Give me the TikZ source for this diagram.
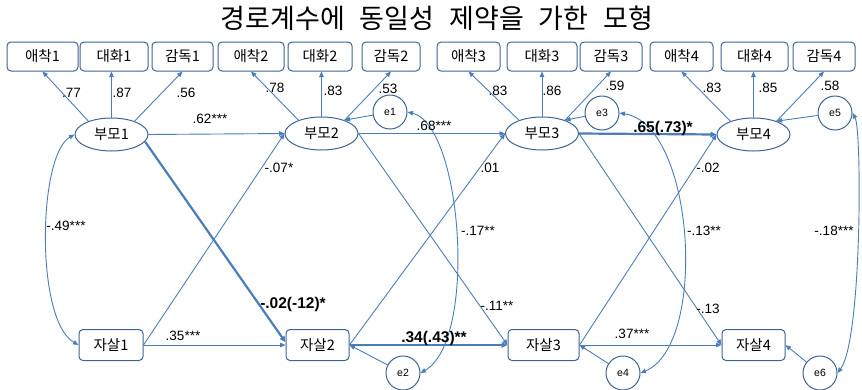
\documentclass[tikz,border=0pt]{standalone}
\usepackage{fontspec}
\setmainfont{Liberation Sans}
\newfontfamily\kfont{Noto Sans CJK KR}
\usetikzlibrary{arrows.meta,shapes.geometric}
\definecolor{lineblue}{RGB}{74,126,187}
\definecolor{bordc}{RGB}{62,100,148}
\tikzset{
  obs/.style={draw=bordc, line width=1pt, rounded corners=4pt, minimum height=29pt, inner sep=0pt, font=\kfont\fontsize{14.5}{16}\selectfont},
  lat/.style={draw=bordc, line width=1pt, ellipse, minimum width=73pt, minimum height=33pt, inner sep=0pt, font=\kfont\fontsize{14.5}{16}\selectfont},
  err/.style={draw=bordc, line width=1pt, circle, minimum size=34pt, inner sep=0pt, font=\fontsize{10.5}{12}\selectfont},
  conn/.style={draw=lineblue, line width=0.9pt, -{Triangle[length=5.5pt,width=4.5pt]}},
  connthick/.style={draw=lineblue, line width=2.2pt, -{Triangle[length=6pt,width=5.5pt]}},
  cov/.style={draw=lineblue, line width=0.9pt, {Triangle[length=5.5pt,width=4.5pt]}-{Triangle[length=5.5pt,width=4.5pt]}},
  lab/.style={anchor=base, inner sep=0pt, font=\fontsize{13.5}{15}\selectfont},
  blab/.style={anchor=base, inner sep=0pt, font=\bfseries\fontsize{15.5}{18}\selectfont},
  ttl/.style={inner sep=0pt, font=\kfont\fontsize{27}{30}\selectfont}
}
\begin{document}
\begin{tikzpicture}[x=1pt,y=-1pt]
\useasboundingbox (0,0) rectangle (862,389);
\fill[white] (0,0) rectangle (862,389);
% title
\node[ttl] (title) at (437,18) {경로계수에\hspace{15pt}동일성\hspace{15pt}제약을\hspace{15pt}가한\hspace{15pt}모형};
% top indicators
\node[obs, minimum width=71pt] (a1) at (42.5,56.5) {애착1};
\node[obs, minimum width=68pt] (b1) at (114,56.5) {대화1};
\node[obs, minimum width=61pt] (c1) at (182.5,56.5) {감독1};
\node[obs, minimum width=66pt] (a2) at (251,56.5) {애착2};
\node[obs, minimum width=64pt] (b2) at (320,56.5) {대화2};
\node[obs, minimum width=58pt] (c2) at (391,56.5) {감독2};
\node[obs, minimum width=63pt] (a3) at (468.5,56.5) {애착3};
\node[obs, minimum width=70pt] (b3) at (542,56.5) {대화3};
\node[obs, minimum width=62pt] (c3) at (611,56.5) {감독3};
\node[obs, minimum width=63pt] (a4) at (681.5,56.5) {애착4};
\node[obs, minimum width=67pt] (b4) at (754.5,56.5) {대화4};
\node[obs, minimum width=62pt] (c4) at (824,56.5) {감독4};
% latent
\node[lat] (p1) at (111.5,134.5) {부모1};
\node[lat] (p2) at (321.5,133.5) {부모2};
\node[lat] (p3) at (542,133.5) {부모3};
\node[lat] (p4) at (753.5,134.5) {부모4};
% errors
\node[err] (e1) at (390,112) {e1};
\node[err] (e3) at (602,113) {e3};
\node[err] (e5) at (835,113) {e5};
\node[err] (e2) at (403,373) {e2};
\node[err] (e4) at (623,373) {e4};
\node[err] (e6) at (820,373) {e6};
% bottom boxes
\node[obs, minimum width=64pt, minimum height=31pt] (s1) at (111,345) {자살1};
\node[obs, minimum width=63pt, minimum height=31pt] (s2) at (317.5,345) {자살2};
\node[obs, minimum width=71pt, minimum height=31pt] (s3) at (543.5,345) {자살3};
\node[obs, minimum width=63pt, minimum height=31pt] (s4) at (753.5,345) {자살4};
% loadings
\draw[conn] (p1.150) -- (a1.south);
\draw[conn] (p1.north) -- (p1.north |- b1.south);
\draw[conn] (p1.30) -- (c1.south);
\draw[conn] (p2.150) -- (a2.south);
\draw[conn] (p2.north) -- (p2.north |- b2.south);
\draw[conn] (p2.30) -- (c2.south);
\draw[conn] (p3.150) -- (a3.south);
\draw[conn] (p3.north) -- (p3.north |- b3.south);
\draw[conn] (p3.30) -- (c3.south);
\draw[conn] (p4.150) -- (a4.south);
\draw[conn] (p4.north) -- (p4.north |- b4.south);
\draw[conn] (p4.30) -- (c4.south);
% errors to variables
\draw[conn] (e1) -- (p2.30);
\draw[conn] (e3) -- (p3.30);
\draw[conn] (e5) -- (p4.30);
\draw[conn] (e2) -- (s2.east);
\draw[conn] (e4) -- (s3.east);
\draw[conn] (e6) -- (s4.east);
% structural paths
\draw[conn] (p1.east) -- (p2.west);
\draw[conn] (p2.east) -- (p3.west);
\draw[connthick] (p3.east) -- (p4.west);
\draw[conn] (s1.east) -- (s2.west);
\draw[connthick] (s2.east) -- (s3.west);
\draw[conn] (s3.east) -- (s4.west);
\draw[connthick] (p1.-12) -- (s2.175);
\draw[conn] (s1.east) -- (p2.west);
\draw[conn] (p2.east) -- (s3.west);
\draw[conn] (s2.east) -- (p3.west);
\draw[conn] (p3.east) -- (s4.west);
\draw[conn] (s3.east) -- (p4.west);
% covariances
\draw[cov] (p1.west) .. controls (38,155) and (35,320) .. (s1.west);
\draw[cov] (e1.east) .. controls (462,125) and (478,340) .. (e2.east);
\draw[cov] (e3.east) .. controls (695,125) and (708,345) .. (e4.east);
\draw[cov] (e5.east) .. controls (862,130) and (862,340) .. (e6.east);
% labels
\node[lab] (l1) at (71.5,97) {.77};
\node[lab] (l2) at (122,97) {.87};
\node[lab] (l3) at (186,97) {.56};
\node[lab] (l4) at (275,92) {.78};
\node[lab] (l5) at (333,95) {.83};
\node[lab] (l6) at (388,93) {.53};
\node[lab] (l7) at (498,95) {.83};
\node[lab] (l8) at (552,95) {.86};
\node[lab] (l9) at (615,90) {.59};
\node[lab] (l10) at (712,92) {.83};
\node[lab] (l11) at (768,92) {.85};
\node[lab] (l12) at (830,90) {.58};
\node[lab] (l13) at (210,123) {.62***};
\node[lab] (l14) at (434,130) {.68***};
\node[blab] (l15) at (663,132) {.65(.73)*};
\node[lab] (l16) at (279,172) {-.07*};
\node[lab] (l17) at (490,172) {.01};
\node[lab] (l18) at (708,172) {-.02};
\node[lab] (l19) at (66,230) {-.49***};
\node[lab] (l20) at (478,235) {-.17**};
\node[lab] (l21) at (704,235) {-.13**};
\node[lab] (l22) at (834,235) {-.18***};
\node[blab] (l23) at (293,308) {-.02(-12)*};
\node[lab] (l24) at (497,310) {-.11**};
\node[lab] (l25) at (708,313) {-.13};
\node[lab] (l26) at (183,340) {.35***};
\node[blab] (l27) at (434,342) {.34(.43)**};
\node[lab] (l28) at (632,338) {.37***};
\end{tikzpicture}
\end{document}
